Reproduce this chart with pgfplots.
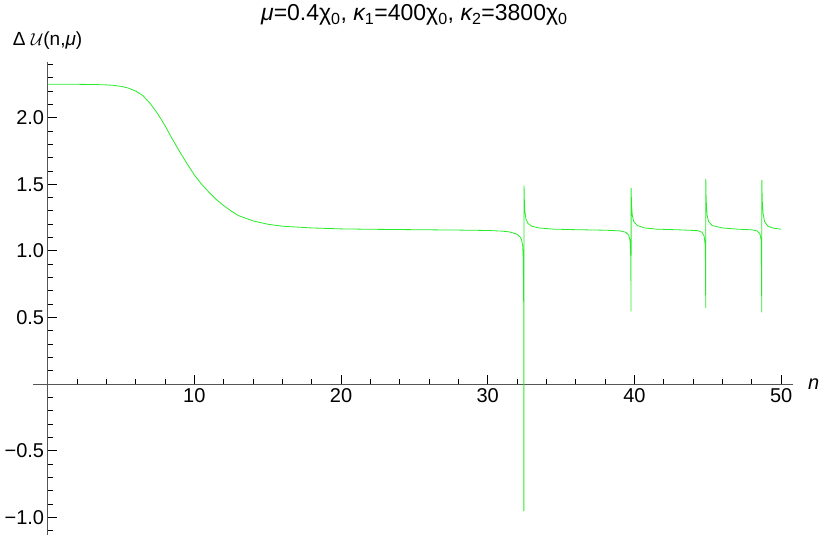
\documentclass[border=0pt]{standalone}
\usepackage{fontspec}
\setmainfont{Liberation Sans}
\usepackage{pgfplots}
\pgfplotsset{compat=1.18}
\definecolor{curve}{RGB}{40,235,40}
\definecolor{axgray}{RGB}{85,85,85}
\begin{document}
\begin{tikzpicture}
\begin{axis}[
  scale only axis, width=760pt, height=473pt,
  xmin=-1, xmax=50.8, ymin=-1.13, ymax=2.42,
  axis lines=middle,
  every inner x axis line/.append style={-},
  every inner y axis line/.append style={-},
  axis line style={axgray, line width=1pt},
  xtick={10,20,30,40,50}, xticklabels={10,20,30,40,50},
  minor xtick={2,4,6,8,12,14,16,18,22,24,26,28,32,34,36,38,42,44,46,48},
  ytick={-1,-0.5,0.5,1,1.5,2}, yticklabels={−1.0,−0.5,0.5,1.0,1.5,2.0},
  minor ytick={-1.1,-0.9,-0.8,-0.7,-0.6,-0.4,-0.3,-0.2,-0.1,0.1,0.2,0.3,0.4,0.6,0.7,0.8,0.9,1.1,1.2,1.3,1.4,1.6,1.7,1.8,1.9,2.1,2.2,2.3,2.4},
  tick align=inside, major tick length=9pt, minor tick length=5pt,
  tick style={black, line width=0.8pt},
  ticklabel style={font=\fontsize{20}{22}\selectfont},
  xticklabel style={yshift=-1pt},
  /pgf/number format/assume math mode=true,
  clip=false,
]
\addplot[curve, line width=0.8pt] coordinates {
(0,2.250) (2,2.250) (3,2.249) (4,2.246) (4.5,2.242) (5,2.235) (5.5,2.222) (6,2.200) (6.5,2.165)
(7,2.105) (7.5,2.030) (8,1.940) (8.5,1.840) (9,1.745) (9.5,1.655) (10,1.570) (10.5,1.500)
(11,1.440) (11.5,1.385) (12,1.340) (12.5,1.300) (13,1.265) (14,1.225) (15,1.200) (16,1.185)
(18,1.172) (20,1.165) (22,1.162) (25,1.159) (28,1.156) (30,1.153) (31,1.148) (31.5,1.142)
(32,1.125) (32.2,1.105) (32.3,1.085) (32.38,1.040) (32.42,0.950) (32.45,0.600) (32.465,-0.953)
(32.475,1.490) (32.49,1.400) (32.53,1.300) (32.6,1.240) (32.75,1.205) (33,1.185) (33.5,1.172)
(34.5,1.163) (36,1.159) (38,1.155) (39,1.150) (39.4,1.140) (39.6,1.120) (39.7,1.080)
(39.75,0.950) (39.77,0.545) (39.775,1.470) (39.8,1.350) (39.85,1.270) (39.95,1.220)
(40.2,1.190) (40.7,1.172) (41.5,1.163) (43,1.158) (44.3,1.152) (44.6,1.140) (44.75,1.110)
(44.83,1.040) (44.86,0.570) (44.865,1.540) (44.89,1.380) (44.95,1.270) (45.05,1.220)
(45.3,1.190) (46,1.172) (47,1.163) (48,1.158) (48.35,1.150) (48.55,1.130) (48.64,1.080)
(48.68,0.538) (48.685,1.530) (48.71,1.380) (48.77,1.280) (48.87,1.220) (49.1,1.185)
(49.5,1.170) (50,1.163)
};
\node[font=\fontsize{19}{21}\selectfont] at (axis cs:0,2.58) {Δ $\mathcal{U}$(n,{\itshape μ})};
\node[font=\fontsize{20}{22}\selectfont, anchor=west] at (axis cs:51.6,0) {\itshape n};
\node[font=\fontsize{23}{25}\selectfont] at (axis cs:25,2.77) {{\itshape μ}=0.4χ\textsubscript{0}, {\itshape κ}\textsubscript{1}=400χ\textsubscript{0}, {\itshape κ}\textsubscript{2}=3800χ\textsubscript{0}};
\coordinate (bl) at (axis cs:-3.245,-1.1486);
\coordinate (tr) at (axis cs:53.33,2.883);
\end{axis}
\pgfresetboundingbox
\path[use as bounding box] (bl) rectangle (tr);
\end{tikzpicture}
\end{document}
